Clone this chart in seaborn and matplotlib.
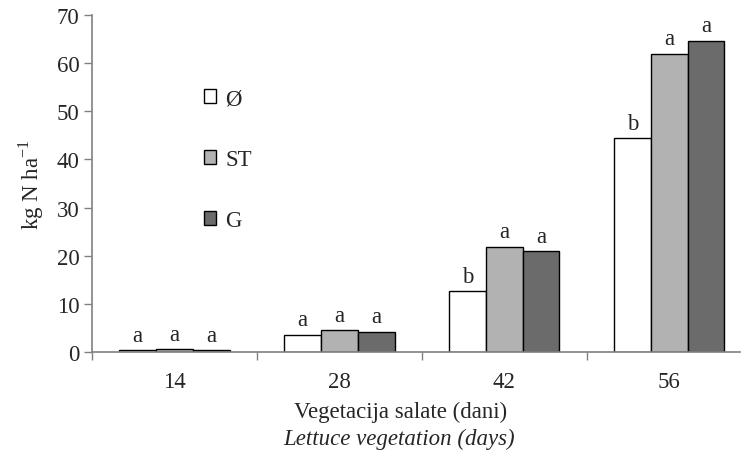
import matplotlib
matplotlib.use("Agg")
import matplotlib.pyplot as plt
import seaborn as sns
import pandas as pd

days = ["14", "28", "42", "56"]
treatments = ["Ø", "ST", "G"]
val_0 = [0.35, 3.6, 12.7, 44.4]
val_st = [0.55, 4.6, 21.9, 62.0]
val_g = [0.35, 4.2, 20.9, 64.7]
letters_0 = ["a", "a", "b", "b"]
letters_st = ["a", "a", "a", "a"]
letters_g = ["a", "a", "a", "a"]
colors = ["#ffffff", "#b2b2b2", "#6b6b6b"]

rows = []
for t, vals in zip(treatments, [val_0, val_st, val_g]):
    for d, v in zip(days, vals):
        rows.append({"day": d, "treatment": t, "value": v})
df = pd.DataFrame(rows)

sns.set_theme(style="white")
plt.rcParams["font.family"] = ["Liberation Serif", "DejaVu Serif"]
plt.rcParams["mathtext.fontset"] = "custom"
plt.rcParams["mathtext.rm"] = "Liberation Serif"

FS = 16.5
fig = plt.figure(figsize=(7.41, 4.56), dpi=100)
ax = fig.add_axes([92 / 741, 103 / 456, (740 - 92) / 741, 337 / 456])

sns.barplot(data=df, x="day", y="value", hue="treatment", order=days,
            hue_order=treatments, palette=colors, width=0.67, gap=0,
            edgecolor="black", linewidth=1.0, ax=ax, saturation=1)

ax.set_ylim(0, 70)
ax.set_xlim(-0.5, 3.43)
ax.set_yticks(range(0, 71, 10))
ax.tick_params(axis="y", labelsize=FS, length=6, width=1, color="#808080",
               direction="out", left=True, pad=3)
ax.set_xticks(range(4))
ax.set_xticklabels(days)
ax.tick_params(axis="x", which="major", length=0, labelsize=FS, pad=14)
ax.set_xticks([-0.5, 0.5, 1.5, 2.5], minor=True)
ax.tick_params(axis="x", which="minor", length=6, width=1, color="#808080",
               direction="out", bottom=True)
for s in ["top", "right"]:
    ax.spines[s].set_visible(False)
for s in ["left", "bottom"]:
    ax.spines[s].set_color("#808080")
    ax.spines[s].set_linewidth(1.2)

ax.set_ylabel("kg N ha$^{-1}$", fontsize=FS, labelpad=8)
ax.set_xlabel("Vegetacija salate (dani)", fontsize=FS)
ax.xaxis.set_label_coords((401 - 92) / 648, -0.146)
ax.xaxis.label.set_va("top")
fig.text(399 / 741, 11 / 456, "Lettuce vegetation (days)", fontsize=FS,
         style="italic", ha="center", va="baseline")

for cont, lets in zip(ax.containers, [letters_0, letters_st, letters_g]):
    for bar, lt in zip(cont, lets):
        ax.text(bar.get_x() + bar.get_width() / 2, bar.get_height() + 0.9, lt,
                ha="center", va="bottom", fontsize=FS)

handles, labels = ax.get_legend_handles_labels()
ax.legend(handles, labels, loc="upper left", bbox_to_anchor=(0.158, 0.81),
          frameon=False, fontsize=FS, handlelength=0.55, handleheight=0.55,
          handletextpad=0.4, labelspacing=1.75, borderaxespad=0)

fig.savefig("out.png", dpi=100)
